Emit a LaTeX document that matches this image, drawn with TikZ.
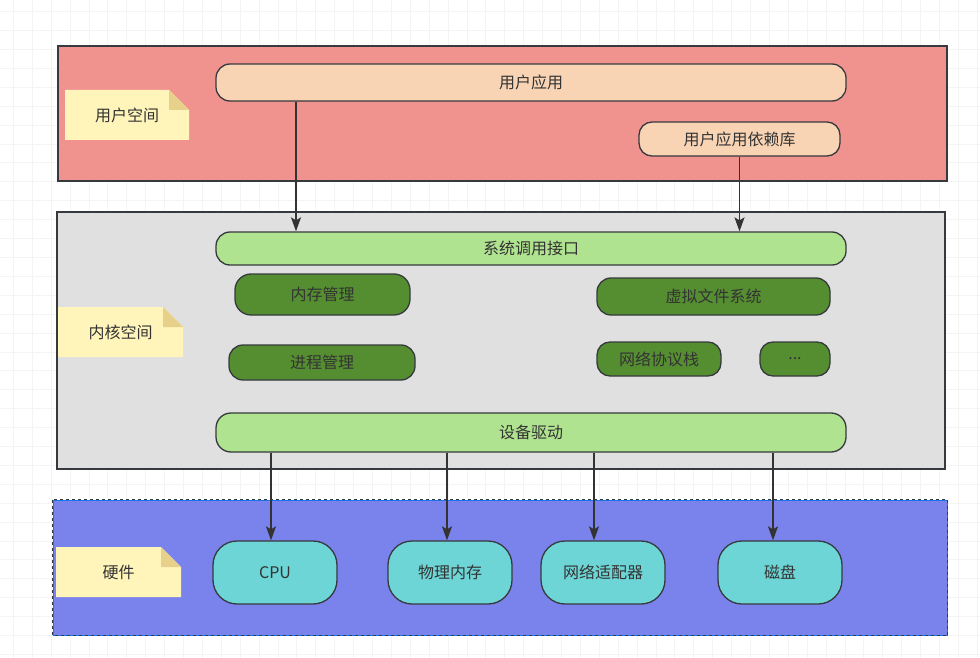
\documentclass[tikz,border=0pt]{standalone}
\usepackage{fontspec}
\setmainfont{Noto Sans CJK SC}
\usetikzlibrary{arrows.meta}
\definecolor{ink}{HTML}{333333}
\definecolor{edge}{HTML}{36393D}
\definecolor{userbg}{HTML}{F0938F}
\definecolor{kernbg}{HTML}{E0E0E0}
\definecolor{hwbg}{HTML}{7A82EB}
\definecolor{peach}{HTML}{F8D4B4}
\definecolor{lime}{HTML}{B0E38F}
\definecolor{moss}{HTML}{558E30}
\definecolor{teal}{HTML}{6ED5D6}
\definecolor{notefill}{HTML}{FFF4BA}
\definecolor{notefold}{HTML}{E6D08A}
\definecolor{selblue}{HTML}{1A73E8}
\definecolor{gridline}{HTML}{F4F4F4}
\tikzset{
        every node/.style={font=\fontsize{16}{19}\selectfont, text=ink},
        layer/.style={draw=edge, line width=1.3pt, inner sep=0pt},
        pill/.style={draw=edge, line width=1.3pt, inner sep=0pt, rounded corners=#1},
        pill/.default=14pt,
        upper/.style={pill, fill=peach},
        callbox/.style={pill, fill=lime},
        module/.style={pill, fill=moss},
        device/.style={pill=24pt, fill=teal, minimum width=124pt, minimum height=63pt},
        note/.style={inner sep=0pt, minimum width=124pt, minimum height=50pt,
          path picture={
            \fill[notefill] (path picture bounding box.south west)
              -- (path picture bounding box.north west)
              -- ([xshift=-20pt]path picture bounding box.north east)
              -- ([yshift=-20pt]path picture bounding box.north east)
              -- (path picture bounding box.south east) -- cycle;
            \fill[notefold] ([xshift=-20pt]path picture bounding box.north east)
              -- ([xshift=-20pt,yshift=-20pt]path picture bounding box.north east)
              -- ([yshift=-20pt]path picture bounding box.north east) -- cycle;
          }},
        arr/.style={draw=ink, line width=1.4pt, -{Stealth[length=14pt,width=10pt,inset=3pt]}}
          }

\begin{document}
\begin{tikzpicture}[x=1pt, y=-1pt]
        \useasboundingbox (0,0) rectangle (980,658);
        \fill[white] (0,0) rectangle (980,658);
        \foreach \gx in {0,...,51} \draw[gridline, line width=0.8pt] (13.3+18.9*\gx,0) -- (13.3+18.9*\gx,658);
        \foreach \gy in {0,...,34} \draw[gridline, line width=0.8pt] (0,11.7+18.9*\gy) -- (980,11.7+18.9*\gy);

        % user space
        \node[layer, fill=userbg, minimum width=889pt, minimum height=135pt] (user) at (502.5,113.5) {};
        \node[note] (unote) at (127,115) {用户空间};
        \node[upper, minimum width=630pt, minimum height=37pt] (app) at (531,82.5) {用户应用};
        \node[upper, pill=13pt, minimum width=201pt, minimum height=34pt] (lib) at (739.5,139) {用户应用依赖库};

        % kernel space
        \node[layer, fill=kernbg, minimum width=888pt, minimum height=257pt] (kern) at (501,340.5) {};
        \node[note, minimum width=125pt] (knote) at (120.5,332) {内核空间};
        \node[callbox, minimum width=630pt, minimum height=33pt] (syscall) at (531,248.5) {系统调用接口};
        \node[module, pill=16pt, minimum width=175pt, minimum height=41pt] (mem) at (322.5,294.5) {内存管理};
        \node[module, minimum width=233pt, minimum height=37pt] (vfs) at (713.5,296.5) {虚拟文件系统};
        \node[module, minimum width=186pt, minimum height=35pt] (proc) at (322,362.5) {进程管理};
        \node[module, pill=13pt, minimum width=124pt, minimum height=34pt] (net) at (659,359) {网络协议栈};
        \node[module, pill=13pt, minimum width=70pt, minimum height=34pt] (more) at (795,359) {...};
        \node[callbox, pill=15pt, minimum width=630pt, minimum height=39pt] (driver) at (531,432.5) {设备驱动};

        % hardware
        \node[layer, draw=selblue, line width=1pt, fill=hwbg, minimum width=894pt, minimum height=135pt] (hw) at (500,567.5) {};
        \draw[edge, line width=1pt, dashed] (hw.north west) rectangle (hw.south east);
        \node[note, minimum width=125pt] (hnote) at (118.5,572) {硬件};
        \node[device] (cpu) at (275,572.5) {CPU};
        \node[device] (ram) at (450,572.5) {物理内存};
        \node[device] (nic) at (603,572.5) {网络适配器};
        \node[device] (disk) at (780,572.5) {磁盘};

        % connectors
        \coordinate (c1) at (296,0);
        \coordinate (c2) at (271,0);
        \coordinate (c3) at (447,0);
        \coordinate (c4) at (594,0);
        \coordinate (c5) at (773,0);
        \draw[arr] (app.south -| c1) -- (syscall.north -| c1);
        \draw[arr] (lib.south) -- (syscall.north -| lib.south);
        \draw[arr] (driver.south -| c2) -- (cpu.north -| c2);
        \draw[arr] (driver.south -| c3) -- (ram.north -| c3);
        \draw[arr] (driver.south -| c4) -- (nic.north -| c4);
        \draw[arr] (driver.south -| c5) -- (disk.north -| c5);
\end{tikzpicture}
\end{document}
